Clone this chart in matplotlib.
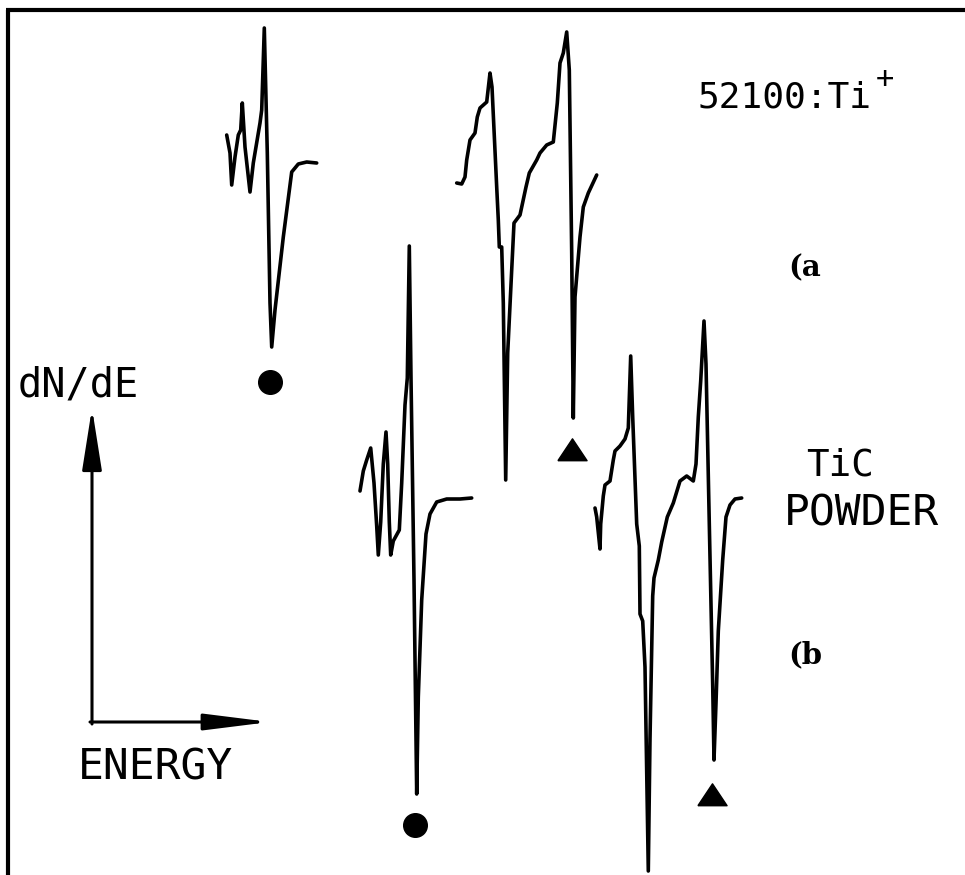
import matplotlib
matplotlib.use("Agg")
import matplotlib.pyplot as plt

# Traced Auger dN/dE spectra (x = energy position, y = signal; drawing units, y down)
# (a) 52100 steel implanted with Ti+
a_low_x = [226.7, 230, 231.7, 235, 238.3, 240.7, 242.3, 245, 250, 253.3, 260, 261.7, 264.3,
           267.3, 270, 271.7, 275, 283.3, 291.7, 298.3, 306.7, 316.7]
a_low_y = [135, 153, 185, 157, 135, 130, 103, 147, 192, 163, 123, 110, 28,
           153, 303, 347, 310, 237, 172, 164, 162, 163]

a_high_x = [456.7, 461.7, 465, 466.7, 470, 475, 477.3, 480, 486.7, 490, 492, 496.7, 498.3,
            499.3, 501.7, 503.3, 505.7, 507.7, 511.7, 514, 520, 526, 529.3, 536.7, 540,
            546.7, 553.3, 557.3, 560, 563.3, 566.7, 569.3, 571.7, 573.3, 575, 580, 583.3,
            588.3, 596.7]
a_high_y = [183, 184, 177, 160, 140, 133, 117, 108, 102, 73, 87, 187, 220,
            247, 247, 303, 480, 353, 270, 223, 215, 187, 173, 160, 153,
            145, 142, 103, 63, 53, 32, 70, 253, 418, 297, 237, 207,
            193, 175]

# (b) TiC powder
b_low_x = [360, 363.3, 366.7, 370.7, 374, 376.7, 378.3, 380.7, 383.3, 386, 387.7, 389.3,
           390.7, 393.3, 399.3, 401.7, 405, 407.3, 409.3, 411, 414, 416.7, 418.3, 421.7,
           426, 430, 436.7, 446.7, 460, 471.7]
b_low_y = [491, 471, 460, 448, 483, 526, 555, 522, 464, 432, 464, 522,
           555, 541, 530, 483, 405, 378, 246, 378, 580, 794, 697, 600,
           534, 514, 502, 499, 499, 498]

b_high_x = [595, 596.7, 600, 600.7, 603.3, 605, 610, 613.3, 615, 620, 625, 628.3, 630.7,
            632.7, 636.7, 639.3, 640, 642.7, 645, 648.3, 650, 652.7, 654, 658.3, 661.7,
            667.3, 673.3, 680, 686.7, 693.3, 696, 698.3, 700.7, 704, 706, 709.3, 712.7,
            714, 716, 718.3, 722.7, 726, 730, 735, 741.7]
b_high_y = [508, 517, 549, 524, 496, 485, 481, 460, 451, 446, 439, 428, 356,
            417, 524, 546, 614, 621, 667, 871, 739, 596, 578, 560, 542,
            517, 503, 481, 476, 481, 464, 417, 381, 321, 364, 524, 685,
            760, 703, 631, 560, 517, 505, 499, 498]

# peak markers under the traces
circle_x = [270, 415]
circle_y = [382, 825]
tri_x = [572, 712]
tri_y = [450, 795]

fig = plt.figure(figsize=(9.65, 8.75), dpi=100)
ax = fig.add_axes([0, 0, 1, 1])
ax.set_xlim(0, 965)
ax.set_ylim(875, 0)
ax.axis("off")

# frame (only top and left edges are visible on the scan)
ax.plot([8, 8], [875, 10], color="black", lw=3, solid_capstyle="butt")
ax.plot([6, 965], [10, 10], color="black", lw=3, solid_capstyle="butt")

for xs, ys in [(a_low_x, a_low_y), (a_high_x, a_high_y), (b_low_x, b_low_y), (b_high_x, b_high_y)]:
    ax.plot(xs, ys, color="black", lw=2.6, solid_joinstyle="round", solid_capstyle="round")

ax.plot(circle_x, circle_y, "o", color="black", ms=17, ls="none")
# flat triangle like the hand-drawn ones
tri_marker = [(-1, -0.7), (1, -0.7), (0, 0.8), (-1, -0.7)]
ax.plot(tri_x, tri_y, marker=tri_marker, color="black", ms=21, ls="none")

# axis arrows
ax.annotate("", xy=(92, 408), xytext=(92, 724),
            arrowprops=dict(arrowstyle="-|>,head_length=1.9,head_width=0.3",
                            mutation_scale=20, lw=2.2, color="black", shrinkA=0, shrinkB=0))
ax.annotate("", xy=(270, 722), xytext=(90, 722),
            arrowprops=dict(arrowstyle="-|>,head_length=2.0,head_width=0.25",
                            mutation_scale=20, lw=2.2, color="black", shrinkA=0, shrinkB=0))

mono = "DejaVu Sans Mono"
ax.text(18, 385, "dN/dE", family=mono, fontsize=29, va="center", ha="left")
ax.text(156, 768, "ENERGY", family=mono, fontsize=31, va="center", ha="center")
ax.text(698, 97, "52100:Ti", family=mono, fontsize=26, va="center", ha="left")
ax.text(876, 80, "+", family=mono, fontsize=22, va="center", ha="left")
ax.text(840, 466, "TiC", family=mono, fontsize=27, va="center", ha="center")
ax.text(861, 514, "POWDER", family=mono, fontsize=31, va="center", ha="center")
ax.text(788, 268, "(a", family="DejaVu Serif", fontweight="bold", fontsize=21, va="center", ha="left")
ax.text(788, 655, "(b", family="DejaVu Serif", fontweight="bold", fontsize=21, va="center", ha="left")

fig.savefig("out.png", dpi=100)
